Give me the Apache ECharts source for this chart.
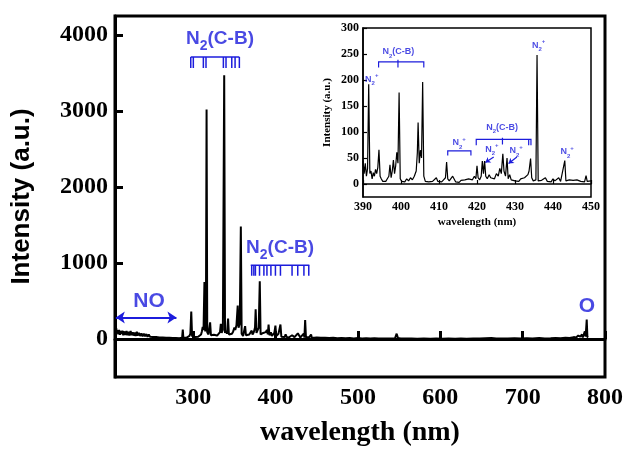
<!DOCTYPE html>
<html><head><meta charset="utf-8">
<script src="https://cdn.jsdelivr.net/npm/echarts@6/dist/echarts.min.js"></script>
<style>html,body{margin:0;padding:0;background:#fff}#c{width:630px;height:455px}</style>
</head><body><div id="c"></div>
<script>
// ---------- data ----------
const mainSpectrum = [
 [205,125],[205.8,55],[206.6,140],[207.4,70],[208.2,115],[209,60],[210,120],[211,55],[212,105],[213,65],[214,110],[215,50],
 [216.5,100],[217.5,55],[219,105],[220,50],[221.5,95],[222.5,45],[224,105],[225,50],[226.5,90],[227.5,45],[229,85],[230,40],
 [231.5,95],[232.5,45],[234,80],[235.5,40],[237,75],[238.5,35],[240,70],[241.5,35],[243,65],[244.5,30],[246,60],[247.5,30],
 [249,55],[251,25],[253,50],[255,25],[257,45],[259,20],[261,40],[263,20],[265,38],[267,15],[269,32],[271,15],[273,30],[275,12],
 [277,28],[279,12],[281,25],[283,10],[285,22],[286.5,15],[287.3,125],[288,15],[290,22],[292,18],[294,35],[295.5,40],[296.5,70],
 [297.6,360],[298.6,40],[300,35],[302,25],[304,40],[306,30],[308,50],[309.5,60],[310.5,100],[311.5,160],[312.5,120],[313.6,750],
 [314.6,100],[315.4,200],[316.2,3020],[317,90],[318.5,60],[319.5,80],[320.5,220],[321.5,50],[323,40],[325,55],[327,35],[329,45],
 [331,60],[332.5,90],[333.5,200],[334.5,80],[336,120],[337.6,3470],[338.6,80],[340,110],[341,70],[342.3,270],[343.3,60],[345,50],
 [347,70],[348.5,100],[350,150],[351,120],[352.5,180],[354,440],[355,150],[356.5,200],[357.8,1480],[358.8,70],[360.5,40],[362,60],
 [363,170],[364,50],[366,40],[368,60],[370,80],[371,110],[372,60],[373.5,90],[375,150],[375.8,390],[376.8,80],[378,90],[379.5,150],
 [380.8,760],[381.8,60],[383,50],[385,80],[386.5,60],[388,90],[389.5,120],[390.5,60],[391.5,190],[392.5,50],[394.3,90],[395.5,40],
 [397,60],[398.5,80],[399.8,175],[400.8,40],[402,50],[403.5,70],[404.5,120],[405.9,190],[407,30],[409,30],[411,25],[412.2,60],
 [413.5,25],[416,20],[418,25],[420,50],[421.5,55],[423,25],[425,30],[427,75],[428,50],[430,20],[432,25],[434.2,70],[435,20],
 [435.9,250],[436.9,20],[439,20],[441,25],[443.1,60],[444,15],[447,15],[450,20],[455,15],[460,18],[465,12],[470,15],[475,10],
 [480,14],[485,10],[490,12],[495,8],[500,12],[505,8],[510,10],[515,6],[520,9],[525,6],[530,8],[535,5],[540,8],[545,10],[547,70],
 [548.5,15],[552,8],[558,5],[565,8],[572,4],[580,6],[588,4],[595,6],[602,3],[610,6],[618,4],[625,7],[632,4],[640,8],[648,5],
 [655,9],[662,12],[668,6],[675,8],[682,5],[690,10],[698,6],[705,9],[712,7],[720,12],[727,8],[734,10],[740,14],[746,10],[752,18],
 [757,12],[762,25],[765,20],[767.5,45],[768.5,20],[770,30],[771,15],[772,60],[773,20],[774.5,40],[775.5,100],[776.5,30],
 [777.8,255],[778.6,30],[779.5,20]
];
const insetSpectrum = [
 [390.0,45],[390.3,20],[390.6,40],[390.9,15],[391.2,30],[391.5,192],[391.8,20],[392.1,25],[392.4,10],[392.7,22],[393.0,15],
 [393.3,28],[393.6,20],[393.9,32],[394.2,66],[394.5,15],[394.8,10],[395.2,5],[395.6,8],[396.0,5],[396.4,10],[396.8,15],[397.1,37],
 [397.4,12],[397.7,25],[398.0,46],[398.3,20],[398.6,35],[398.9,61],[399.2,40],[399.5,176],[399.8,10],[400.2,5],[400.6,8],[401.0,4],
 [401.5,10],[402.0,6],[402.5,12],[403.0,8],[403.5,15],[404.0,25],[404.3,60],[404.5,118],[404.8,40],[405.1,65],[405.4,50],[405.7,196],
 [406.0,15],[406.4,5],[406.8,8],[407.3,4],[407.8,7],[408.3,5],[408.8,8],[409.3,12],[409.7,5],[410.2,7],[410.7,4],[411.2,8],[411.7,12],
 [412.0,42],[412.3,10],[412.7,6],[413.2,8],[413.6,15],[414.0,12],[414.4,4],[414.8,6],[415.3,3],[415.8,7],[416.3,5],[416.8,8],
 [417.3,6],[417.8,10],[418.3,12],[418.8,8],[419.3,15],[419.7,10],[420.0,35],[420.3,12],[420.7,8],[421.1,15],[421.4,44],[421.7,20],
 [422.0,44],[422.3,15],[422.7,10],[423.2,18],[423.6,12],[424.1,15],[424.6,10],[425.1,20],[425.6,15],[426.0,30],[426.4,20],[426.8,58],
 [427.1,25],[427.5,15],[427.9,50],[428.2,10],[428.6,18],[429.0,8],[429.5,10],[430.0,6],[430.5,9],[431.0,5],[431.5,10],[432.0,8],
 [432.5,12],[433.0,10],[433.4,18],[433.7,25],[434.1,49],[434.4,12],[434.8,6],[435.2,4],[435.5,8],[435.8,248],[436.1,6],[436.5,3],
 [437.0,7],[437.5,4],[438.0,12],[438.5,5],[439.0,8],[439.5,4],[440.0,10],[440.5,6],[441.0,9],[441.5,12],[442.0,5],[442.5,7],
 [443.1,45],[443.4,6],[443.8,4],[444.3,8],[444.8,5],[445.3,7],[445.8,4],[446.3,8],[446.8,10],[447.3,5],[447.8,7],[448.3,4],
 [448.7,16],[449.0,5],[449.5,8],[450.0,6]
];
const mainXTicks = [300,400,500,600,700,800];
const mainYTicks = [0,1000,2000,3000,4000];
const insetXTicks = [390,400,410,420,430,440,450];
const insetYTicks = [0,50,100,150,200,250,300];
// N2(C-B) band-head comb marks (nm)
const combUV = [297,300.1,312.3,315.5,336.6,339.8,346.8,350.8,356];
const combVis = [371,373.6,375.5,380.5,385.8,389.5,394.3,399.8,405.9,420,426.9,434.4,440.3];
// annotation anchors [wavelength, intensity, text]
const mainRichLabels = [[332.5,3946,'{a|N}{b|2}{a|(C-B)}'],[405.4,1200,'{a|N}{b|2}{a|(C-B)}']];
const mainPlainLabels = [[246.3,503,'NO'],[778,438,'O']];
const insetLabels = [
 [392.3,201,'{a|N}{b|2}{c|+}'],[399.3,254,'{a|N}{b|2}{a|(C-B)}'],[415.3,79,'{a|N}{b|2}{c|+}'],
 [426.6,108.7,'{a|N}{b|2}{a|(C-B)}'],[423.9,66.3,'{a|N}{b|2}{c|+}'],[430.3,63.6,'{a|N}{b|2}{c|+}'],
 [436.2,265.7,'{a|N}{b|2}{c|+}'],[443.7,61.7,'{a|N}{b|2}{c|+}']
];

// ---------- build ----------
const BLUE = '#1c1cdc';
const SERIF = 'Liberation Serif';
const SANS = 'Liberation Sans';
function rich(F){
  const base = {color:BLUE, fontFamily:SANS, fontWeight:'bold'};
  return {
    a: Object.assign({fontSize:F, lineHeight:Math.round(F*1.52), verticalAlign:'middle'}, base),
    b: Object.assign({fontSize:Math.round(F*0.72), verticalAlign:'bottom'}, base),
    c: Object.assign({fontSize:Math.round(F*0.72), verticalAlign:'top'}, base)
  };
}
const plain = v => String(v);
const mainY1 = 3710, mainY1b = 3565;
const mainY2 = 972, mainY2b = 832;
const mainLines = [{coords:[[combUV[0],mainY1],[combUV[combUV.length-1],mainY1]]}]
  .concat(combUV.map(x=>({coords:[[x,mainY1],[x,mainY1b]]})))
  .concat([{coords:[[369.8,mainY2],[441,mainY2]]}])
  .concat(combVis.map(x=>({coords:[[x,mainY2],[x,mainY2b]]})));
const insetBrackets = [
  {coords:[[394.1,224],[394.1,235],[406,235],[406,224]]},
  {coords:[[399.2,239],[399.2,224]]},
  {coords:[[412.3,55],[412.3,63.6],[418.4,63.6],[418.4,55]]},
  {coords:[[419.8,74.6],[419.8,86],[434.2,86],[434.2,74.6]]},
  {coords:[[426.7,89],[426.7,76]]},
  {coords:[[433.6,86],[433.6,74.6]]}
];
const insetArrows = [
  {coords:[[424.4,52],[422.2,41.2]]},
  {coords:[[430.5,52],[428.3,39.3]]}
];

const chart = echarts.init(document.getElementById('c'), null, {renderer:'canvas'});
const tickLabelMain = {fontFamily:SERIF, fontWeight:'bold', fontSize:24, color:'#000', formatter:plain};
const tickLabelInset = {fontFamily:SERIF, fontWeight:'bold', fontSize:12, color:'#000', formatter:plain};
chart.setOption({
  animation:false,
  backgroundColor:'#fff',
  grid:[
    {left:115, top:16, width:490, height:361, show:true, borderColor:'#000', borderWidth:3, outerBoundsMode:'none', containLabel:false},
    {left:363, top:28, width:228, height:169, show:true, backgroundColor:'#fff', borderColor:'#000', borderWidth:1.5, outerBoundsMode:'none', containLabel:false, z:5}
  ],
  xAxis:[
    {type:'value', gridIndex:0, min:205, max:800, splitLine:{show:false},
     axisLine:{lineStyle:{color:'#000', width:3}},
     axisTick:{inside:true, length:8, lineStyle:{color:'#000', width:3}, customValues:mainXTicks},
     axisLabel:Object.assign({margin:9, customValues:mainXTicks}, tickLabelMain),
     name:'wavelength (nm)', nameLocation:'middle', nameGap:42,
     nameTextStyle:{fontFamily:SERIF, fontWeight:'bold', fontSize:28, color:'#000'}},
    {type:'value', gridIndex:1, min:390, max:450, splitLine:{show:false}, z:6,
     axisLine:{lineStyle:{color:'#000', width:1.5}},
     axisTick:{inside:true, length:4, lineStyle:{color:'#000', width:1.2}, customValues:insetXTicks},
     axisLabel:Object.assign({margin:4, customValues:insetXTicks}, tickLabelInset),
     name:'wavelength (nm)', nameLocation:'middle', nameGap:20,
     nameTextStyle:{fontFamily:SERIF, fontWeight:'bold', fontSize:11, color:'#000'}}
  ],
  yAxis:[
    {type:'value', gridIndex:0, min:-500, max:4250, splitLine:{show:false},
     axisLine:{lineStyle:{color:'#000', width:3}},
     axisTick:{inside:true, length:8, lineStyle:{color:'#000', width:3}, customValues:mainYTicks},
     axisLabel:Object.assign({margin:7, customValues:mainYTicks}, tickLabelMain),
     name:'Intensity (a.u.)', nameLocation:'middle', nameGap:80, nameRotate:90,
     nameTextStyle:{fontFamily:SANS, fontWeight:'bold', fontSize:26, color:'#000'}},
    {type:'value', gridIndex:1, min:-25, max:300, splitLine:{show:false}, z:6,
     axisLine:{lineStyle:{color:'#000', width:1.5}},
     axisTick:{inside:true, length:4, lineStyle:{color:'#000', width:1.2}, customValues:insetYTicks},
     axisLabel:Object.assign({margin:4, customValues:insetYTicks}, tickLabelInset),
     name:'Intensity (a.u.)', nameLocation:'middle', nameGap:30, nameRotate:90,
     nameTextStyle:{fontFamily:SERIF, fontWeight:'bold', fontSize:11, color:'#000'}}
  ],
  series:[
    {type:'line', xAxisIndex:0, yAxisIndex:0, data:mainSpectrum, showSymbol:false, silent:true,
     lineStyle:{color:'#000', width:2}},
    {type:'lines', coordinateSystem:'cartesian2d', xAxisIndex:0, yAxisIndex:0, polyline:true, silent:true,
     data:mainLines, lineStyle:{color:BLUE, width:1.5, opacity:1}},
    {type:'lines', coordinateSystem:'cartesian2d', xAxisIndex:0, yAxisIndex:0, silent:true,
     symbol:['arrow','arrow'], symbolSize:9,
     data:[{coords:[[206,284],[279.6,284]]}], lineStyle:{color:BLUE, width:2, opacity:1}},
    {type:'scatter', xAxisIndex:0, yAxisIndex:0, symbolSize:0, silent:true,
     data:mainRichLabels.map(d=>({value:[d[0],d[1]], name:d[2]})),
     label:{show:true, position:'inside', formatter:p=>p.name, rich:rich(19)}},
    {type:'scatter', xAxisIndex:0, yAxisIndex:0, symbolSize:0, silent:true,
     data:mainPlainLabels.map(d=>({value:[d[0],d[1]], name:d[2]})),
     label:{show:true, position:'inside', formatter:p=>p.name, color:BLUE, fontFamily:SANS, fontWeight:'bold', fontSize:21}},
    {type:'line', xAxisIndex:1, yAxisIndex:1, data:insetSpectrum, showSymbol:false, silent:true, z:7,
     lineStyle:{color:'#000', width:1.2}},
    {type:'lines', coordinateSystem:'cartesian2d', xAxisIndex:1, yAxisIndex:1, polyline:true, silent:true, z:7,
     data:insetBrackets, lineStyle:{color:BLUE, width:1.2, opacity:1}},
    {type:'lines', coordinateSystem:'cartesian2d', xAxisIndex:1, yAxisIndex:1, silent:true, z:7,
     symbol:['none','arrow'], symbolSize:5,
     data:insetArrows, lineStyle:{color:BLUE, width:1.2, opacity:1}},
    {type:'scatter', xAxisIndex:1, yAxisIndex:1, symbolSize:0, silent:true, z:8,
     data:insetLabels.map(d=>({value:[d[0],d[1]], name:d[2]})),
     label:{show:true, position:'inside', formatter:p=>p.name, rich:rich(9)}}
  ]
});
</script>
</body></html>
